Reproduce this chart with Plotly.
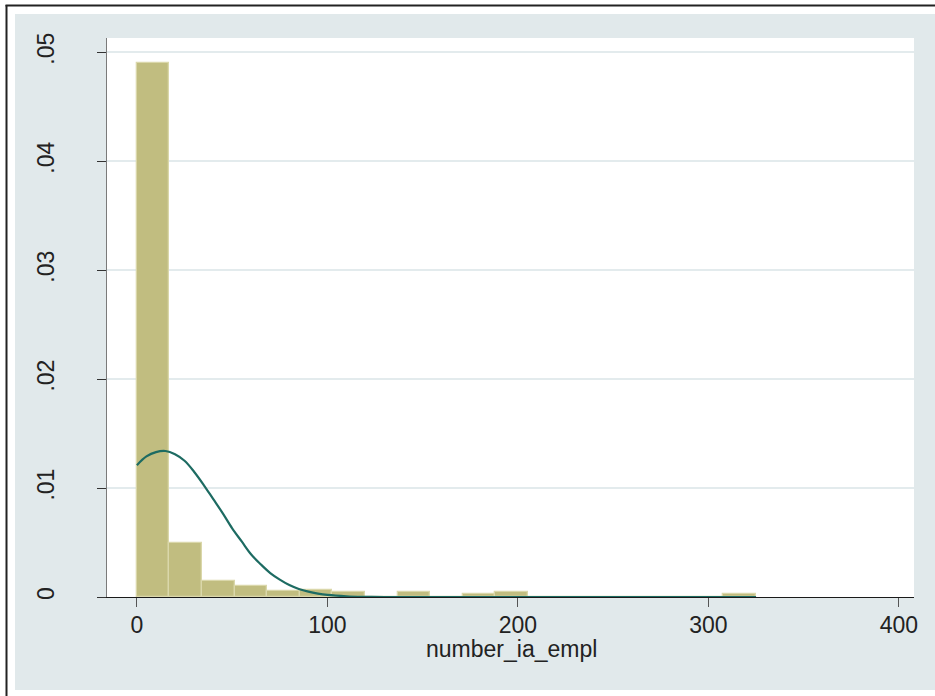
import plotly.graph_objects as go

# ---- data ----
bin_width = 17.1
density = [0.0490, 0.00493, 0.00148, 0.00100, 0.00055, 0.00068, 0.00043,
           0.0, 0.00043, 0.0, 0.00030, 0.00043, 0.0, 0.0, 0.0, 0.0, 0.0,
           0.0, 0.00030]
curve_x = [0, 5, 10, 15, 20, 25, 30, 35, 40, 45, 50, 55, 60, 65, 70, 75,
           80, 85, 90, 95, 100, 110, 120, 130, 150, 200, 250, 300, 325]
curve_y = [0.0121, 0.0129, 0.0133, 0.0134, 0.0131, 0.0125, 0.0115, 0.0103,
           0.0090, 0.0077, 0.0063, 0.0051, 0.0039, 0.0030, 0.0022, 0.0016,
           0.0011, 0.00074, 0.00049, 0.00031, 0.00019, 0.00007, 0.00002,
           0.0, 0.0, 0.0, 0.0, 0.0, 0.0]
y_ticks = [0, 0.01, 0.02, 0.03, 0.04, 0.05]
y_tick_text = ["0", ".01", ".02", ".03", ".04", ".05"]
x_ticks = [0, 100, 200, 300, 400]
x_title = "number_ia_empl"

centers = [(i + 0.5) * bin_width for i in range(len(density))]

W, H = 935, 696
L, R, T, B = 107, 914, 38, 597

fig = go.Figure()
fig.add_trace(go.Bar(
    x=centers, y=density, width=bin_width,
    marker=dict(color="#C1BD80", line=dict(color="#DAD7AA", width=1.3)),
    hoverinfo="skip", showlegend=False))
fig.add_trace(go.Scatter(
    x=curve_x, y=curve_y, mode="lines", line=dict(color="#1D6B62", width=2.2, shape="spline"),
    hoverinfo="skip", showlegend=False))

def px_x(p):
    return (p - L) / (R - L)

def px_y(p):
    return (B - p) / (B - T)

shapes = [
    dict(type="rect", xref="paper", yref="paper", layer="below",
         x0=px_x(15), x1=px_x(940), y0=px_y(690), y1=px_y(14),
         fillcolor="#E1E9EB", line=dict(width=0)),
    dict(type="rect", xref="paper", yref="paper", layer="below",
         x0=0, x1=1, y0=0, y1=1, fillcolor="white", line=dict(width=0)),
    dict(type="line", xref="paper", yref="paper",
         x0=px_x(5.5), x1=px_x(940), y0=px_y(5.5), y1=px_y(5.5),
         line=dict(color="#222222", width=2)),
    dict(type="line", xref="paper", yref="paper",
         x0=px_x(6.5), x1=px_x(6.5), y0=px_y(700), y1=px_y(5),
         line=dict(color="#222222", width=2)),
]

font = "Liberation Sans, Arial, sans-serif"
fig.update_layout(
    width=W, height=H,
    margin=dict(l=L, r=W - R, t=T, b=H - B, pad=0),
    paper_bgcolor="white", plot_bgcolor="rgba(0,0,0,0)",
    bargap=0, shapes=shapes,
    font=dict(family=font, size=23, color="#222222"),
    annotations=[dict(text=x_title, xref="paper", yref="paper",
                      x=px_x(511), y=px_y(649), xanchor="center", yanchor="middle",
                      showarrow=False, font=dict(size=23, color="#222222"))],
    xaxis=dict(range=[-15.7, 407.9], tickvals=x_ticks, showgrid=False, zeroline=False,
               showline=True, linecolor="#1a1a1a", linewidth=1.3,
               ticks="outside", ticklen=9, tickwidth=1.3, tickcolor="#555555",
               tickfont=dict(size=23, color="#222222"), ticklabelstandoff=-2),
    yaxis=dict(range=[0, 0.0513], tickvals=y_ticks, ticktext=y_tick_text,
               tickangle=-90, showgrid=True, gridcolor="#E3EBED", gridwidth=2,
               zeroline=False, showline=True, linecolor="#7a7a7a", linewidth=1.3,
               ticks="outside", ticklen=9, tickwidth=1.3, tickcolor="#333333",
               tickfont=dict(size=23, color="#222222"), ticklabelstandoff=34),
)

fig.write_html("out.html", config={"displayModeBar": False},
               post_script="document.body.style.margin='0';")
